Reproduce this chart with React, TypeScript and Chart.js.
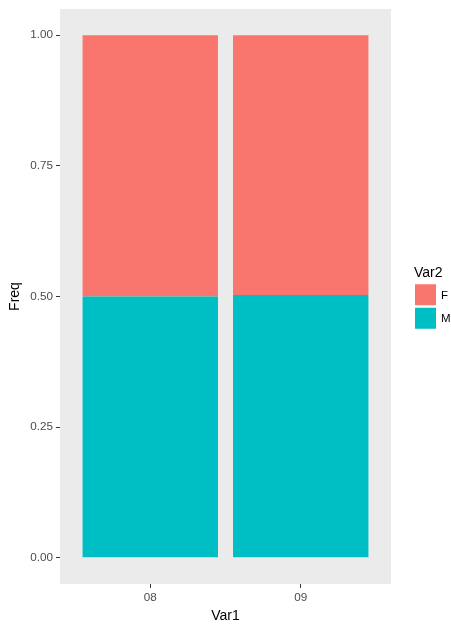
import React, { useEffect, useRef } from "react";
import { Chart, registerables } from "chart.js";

Chart.register(...registerables);

const categories = ["08", "09"];
const seriesNames = ["F", "M"];
const valuesF = [0.5, 0.497];
const valuesM = [0.5, 0.503];
const yTickValues = [0, 0.25, 0.5, 0.75, 1];
const colorF = "#F8766D";
const colorM = "#00BFC4";
const legendTitle = "Var2";
const xTitle = "Var1";
const yTitle = "Freq";

const FONT = "'Liberation Sans', Arial, sans-serif";

const panelBg = {
  id: "panelBg",
  beforeDraw(chart: any) {
    const { ctx, chartArea } = chart;
    ctx.save();
    ctx.fillStyle = "#FFFFFF";
    ctx.fillRect(0, 0, chart.width, chart.height);
    ctx.fillStyle = "#EBEBEB";
    ctx.fillRect(chartArea.left, chartArea.top, chartArea.right - chartArea.left, chartArea.bottom - chartArea.top);
    ctx.restore();
  },
};

const ggLegend = {
  id: "ggLegend",
  afterDraw(chart: any) {
    const { ctx, chartArea } = chart;
    const x0 = chartArea.right + 24;
    const key = 21;
    const gap = 2.5;
    const ds = chart.data.datasets.slice().reverse();
    const total = 22 + ds.length * key + (ds.length - 1) * gap;
    const yMid = (chartArea.top + chartArea.bottom) / 2;
    let y = yMid - total / 2 + 2;
    ctx.save();
    ctx.fillStyle = "#000000";
    ctx.font = `14px ${FONT}`;
    ctx.textBaseline = "middle";
    ctx.textAlign = "left";
    ctx.fillText(legendTitle, x0 - 1, y + 8);
    y += 19;
    ds.forEach((d: any) => {
      ctx.fillStyle = d.backgroundColor;
      ctx.fillRect(x0, y, key, key);
      ctx.fillStyle = "#000000";
      ctx.font = `11.5px ${FONT}`;
      ctx.fillText(d.label, x0 + key + 5, y + key / 2 + 1);
      y += key + gap;
    });
    ctx.restore();
  },
};

export default function App() {
  const ref = useRef<HTMLCanvasElement>(null);
  useEffect(() => {
    if (!ref.current) return;
    const chart = new Chart(ref.current, {
      type: "bar",
      data: {
        datasets: [
          {
            label: seriesNames[1],
            data: categories.map((_, i) => ({ x: i + 1, y: valuesM[i] })),
            backgroundColor: colorM,
            barPercentage: 0.9,
            categoryPercentage: 1,
          },
          {
            label: seriesNames[0],
            data: categories.map((_, i) => ({ x: i + 1, y: valuesF[i] })),
            backgroundColor: colorF,
            barPercentage: 0.9,
            categoryPercentage: 1,
          },
        ],
      },
      plugins: [panelBg, ggLegend],
      options: {
        animation: false,
        responsive: false,
        layout: { padding: { left: 6.6, right: 60, top: 9, bottom: 0 } },
        plugins: { legend: { display: false }, tooltip: { enabled: false } },
        scales: {
          x: {
            type: "linear",
            stacked: true,
            min: 0.4,
            max: 2.6,
            offset: false,
            afterBuildTicks: (s: any) => {
              s.ticks = categories.map((_, i) => ({ value: i + 1 }));
            },
            afterFit: (s: any) => {
              s.height = 41;
              s.paddingLeft = 0;
              s.paddingRight = 0;
            },
            ticks: {
              callback: (v: any) => categories[Math.round(v) - 1] ?? "",
              color: "#4D4D4D",
              font: { family: FONT, size: 11.7 },
              padding: 3,
              maxRotation: 0,
              autoSkip: false,
            },
            grid: { display: true, offset: false, drawOnChartArea: false, drawTicks: true, tickLength: 4, color: "#333333", tickWidth: 1 },
            border: { display: false },
            title: { display: true, text: xTitle, color: "#000000", font: { family: FONT, size: 14 }, padding: { top: 2, bottom: 0 } },
          },
          y: {
            type: "linear",
            stacked: true,
            min: -0.05,
            max: 1.05,
            afterBuildTicks: (s: any) => {
              s.ticks = yTickValues.map((v) => ({ value: v }));
            },
            afterFit: (s: any) => {
              s.width = 53.4;
              s.paddingTop = 0;
              s.paddingBottom = 0;
            },
            ticks: {
              callback: (v: any) => Number(v).toFixed(2),
              color: "#4D4D4D",
              font: { family: FONT, size: 11.7 },
              padding: 3,
            },
            grid: { display: true, drawOnChartArea: false, drawTicks: true, tickLength: 4, color: "#333333", tickWidth: 1 },
            border: { display: false },
            title: { display: true, text: yTitle, color: "#000000", font: { family: FONT, size: 14 }, padding: 0 },
          },
        },
      },
    } as any);
    return () => chart.destroy();
  }, []);
  return (
    <div style={{ position: "fixed", left: 0, top: 0, width: 451, height: 625, background: "#fff" }}>
      <canvas ref={ref} width={451} height={625} style={{ display: "block" }} />
    </div>
  );
}
